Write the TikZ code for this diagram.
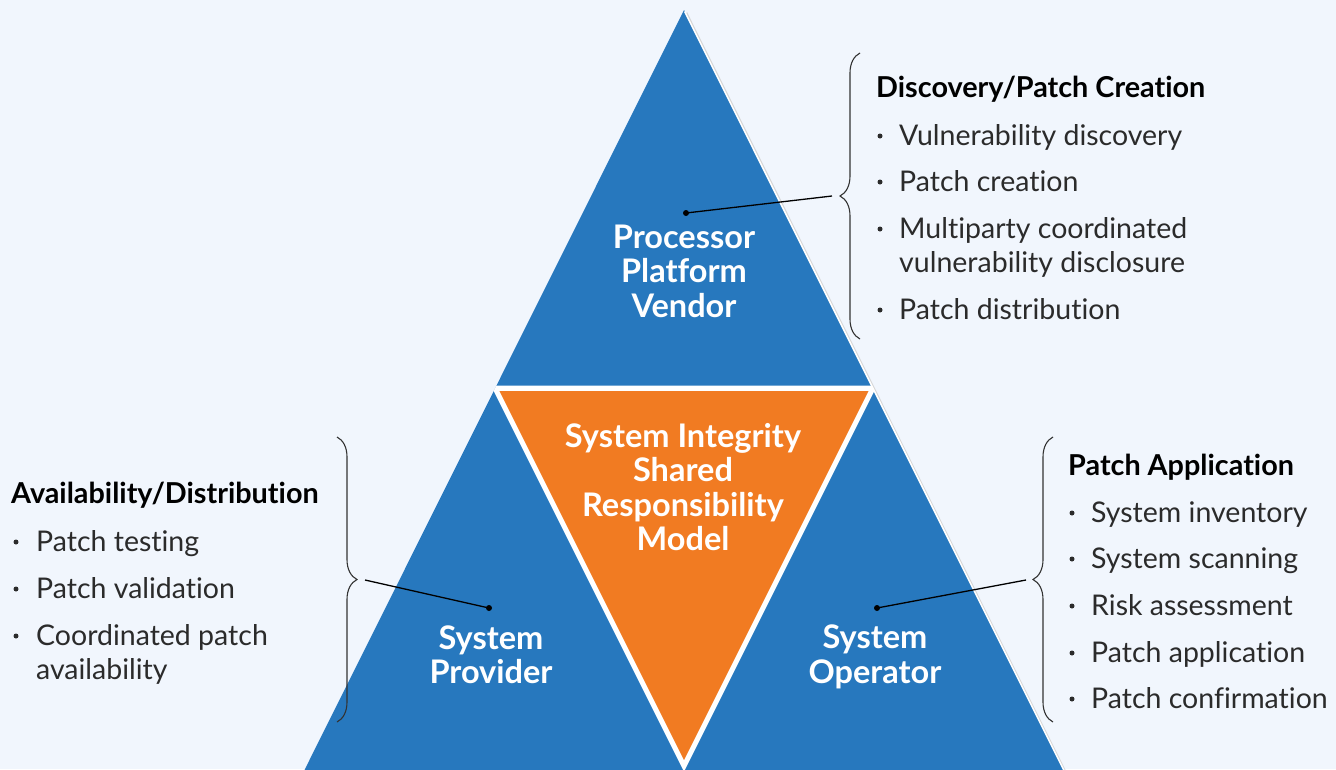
\documentclass[tikz,border=0pt]{standalone}
\usepackage{fontspec}
\setmainfont{Lato}[Ligatures={NoCommon,NoRare}]
\usetikzlibrary{decorations.pathreplacing}
\definecolor{bg}{HTML}{F1F6FD}
\definecolor{tri}{HTML}{2778BE}
\definecolor{core}{HTML}{F17B22}
\definecolor{body}{HTML}{2B2B2B}

\begin{document}
\begin{tikzpicture}[x=1pt,y=-1pt,
  heading/.style={anchor=base west, inner sep=0pt, text=black,
    font=\fontsize{28.8}{34}\selectfont\bfseries},
  item/.style={anchor=base west, inner sep=0pt, text=body,
    font=\fontsize{28.5}{34}\selectfont},
  bul/.style={circle, fill=body, inner sep=0pt, minimum size=5pt},
  tlabel/.style={align=center, text=white, inner sep=0pt,
    font=\fontsize{32.5}{34.5}\selectfont\bfseries},
  leader/.style={line width=1.3pt, draw=black},
  dotmark/.style={circle, fill=black, inner sep=0pt, minimum size=6pt},
  curly/.style={decorate, decoration={brace, amplitude=20pt},
    line width=1.1pt, draw=black!80}
]
% canvas
\fill[bg] (0,0) rectangle (1336,769);
\clip (0,0) rectangle (1336,769);

% soft shadow on the right-hand side of the pyramid
\fill[black!16] (687,12) -- (1068,775) -- (306,775) -- cycle;
% the pyramid
\fill[tri] (684,10) -- (1066,775) -- (302,775) -- cycle;
\draw[white, line width=1.5pt] (684.6,11.5) -- (1065.5,773.5);

% central inverted triangle, separated by white bands
\begin{scope}
  \clip (684,10) -- (1066,775) -- (302,775) -- cycle;
  \filldraw[fill=core, draw=white, line width=5pt, line join=miter]
    (495,388) -- (873,388) -- (684,766) -- cycle;
  \draw[white, line width=5pt] (480,388) -- (890,388);
\end{scope}

% labels inside the pyramid
\node[tlabel] (vendor) at (684,271) {Processor\\Platform\\Vendor};
\node[tlabel] (model) at (683,487) {System Integrity\\Shared\\Responsibility\\Model};
\node[tlabel] (provider) at (491,654.5) {System\\Provider};
\node[tlabel] (operator) at (875,657) {System\\Operator};

% braces
\draw[curly] (860,339) -- (860,53);
\draw[curly] (337,437) -- (337,722);
\draw[curly] (1053,722) -- (1053,437);
\coordinate (tipV) at (832,196);
\coordinate (tipP) at (365,580);
\coordinate (tipO) at (1026,580);

% leaders
\node[dotmark] (dotV) at (686,213) {};
\node[dotmark] (dotP) at (489,608) {};
\node[dotmark] (dotO) at (877,608) {};
\draw[leader] (dotV.center) -- (tipV);
\draw[leader] (tipP) -- (dotP.center);
\draw[leader] (tipO) -- (dotO.center);

% Discovery / patch creation
\node[heading] (hV) at (876,97) {Discovery/Patch Creation};
\node[item] (v1) at (899,145) {Vulnerability discovery};
\node[item] (v2) at (899,191) {Patch creation};
\node[item] (v3) at (899,238) {Multiparty coordinated};
\node[item] (v3b) at (899,272) {vulnerability disclosure};
\node[item] (v4) at (899,319) {Patch distribution};
\node[bul] (bv1) at (880,136) {};
\node[bul] (bv2) at (880,182) {};
\node[bul] (bv3) at (880,229) {};
\node[bul] (bv4) at (880,310) {};

% Availability / distribution
\node[heading] (hP) at (11,503) {Availability/Distribution};
\node[item] (p1) at (36,551) {Patch testing};
\node[item] (p2) at (36,598) {Patch validation};
\node[item] (p3) at (36,645) {Coordinated patch};
\node[item] (p3b) at (36,679) {availability};
\node[bul] (bp1) at (16,542) {};
\node[bul] (bp2) at (16,589) {};
\node[bul] (bp3) at (16,636) {};

% Patch application
\node[heading] (hO) at (1068,475) {Patch Application};
\node[item] (o1) at (1091,522) {System inventory};
\node[item] (o2) at (1091,568) {System scanning};
\node[item] (o3) at (1091,615) {Risk assessment};
\node[item] (o4) at (1091,662) {Patch application};
\node[item] (o5) at (1091,708) {Patch confirmation};
\node[bul] (bo1) at (1072,513) {};
\node[bul] (bo2) at (1072,559) {};
\node[bul] (bo3) at (1072,606) {};
\node[bul] (bo4) at (1072,653) {};
\node[bul] (bo5) at (1072,699) {};
\end{tikzpicture}
\end{document}
